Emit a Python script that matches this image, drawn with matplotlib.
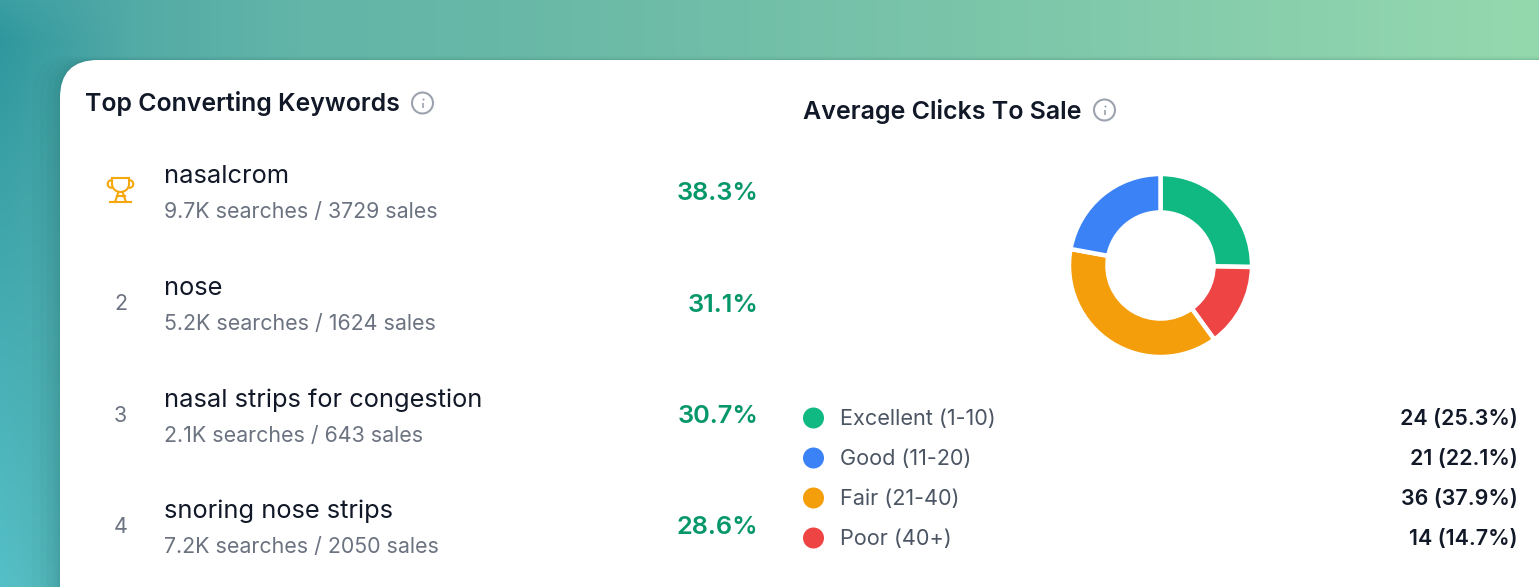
import numpy as np
import matplotlib
matplotlib.use("Agg")
import matplotlib.pyplot as plt
from matplotlib.patches import Circle, FancyBboxPatch
from matplotlib.colors import to_rgb

plt.rcParams['font.family'] = ['Inter', 'DejaVu Sans']

# keyword table
keywords = ["nasalcrom", "nose", "nasal strips for congestion", "snoring nose strips"]
searches = ["9.7K", "5.2K", "2.1K", "7.2K"]
sales = [3729, 1624, 643, 2050]
rates = ["38.3%", "31.1%", "30.7%", "28.6%"]
ranks = ["", "2", "3", "4"]

# donut data
buckets = ["Excellent (1-10)", "Good (11-20)", "Fair (21-40)", "Poor (40+)"]
counts = [24, 21, 36, 14]
shares = ["25.3%", "22.1%", "37.9%", "14.7%"]
colors = ["#10b981", "#3b82f6", "#f59e0b", "#ef4444"]
# donut runs clockwise: excellent, poor, fair, good
donut_order = [0, 3, 2, 1]

W, H = 1539, 587
DARK = "#111827"
GREY = "#6b7280"
GREEN = "#059669"

fig = plt.figure(figsize=(W / 100, H / 100), dpi=100)
ax = fig.add_axes([0, 0, 1, 1])
ax.axis("off")

# background: colour along the top strip blended with colour down the left strip
top_x = [120, 300, 500, 1000, 1300, 1539]
top_c = np.array([to_rgb(c) for c in ["#52aaa6", "#62b5a8", "#68b8a7", "#7cc6aa", "#8ad0ad", "#94d9ae"]])
left_y = [0, 40, 200, 587]
left_c = np.array([to_rgb(c) for c in ["#3a9ea3", "#2f979e", "#3ea4aa", "#55c0c8"]])
xs = np.arange(W)
ys = np.arange(H)
top_row = np.stack([np.interp(xs, top_x, top_c[:, k]) for k in range(3)], axis=1)
left_col = np.stack([np.interp(ys, left_y, left_c[:, k]) for k in range(3)], axis=1)
mix = np.clip(1 - xs / 130, 0, 1)[None, :, None]
img = mix * left_col[:, None, :] + (1 - mix) * top_row[None, :, :]
ax.imshow(img, extent=(0, W, H, 0), aspect="auto", zorder=0)

# soft card shadow
for pad, alpha in zip([28, 20, 13, 7, 3], [0.02, 0.025, 0.03, 0.035, 0.04]):
    ax.add_patch(FancyBboxPatch((60 - pad, 60 - pad * 0.15), W + 100, H + 100,
                                boxstyle="round,pad=0,rounding_size=38",
                                fc="#0b3d3d", ec="none", alpha=alpha, zorder=1))
# card
ax.add_patch(FancyBboxPatch((60, 60), W + 100, H + 100,
                            boxstyle="round,pad=0,rounding_size=38",
                            fc="white", ec="none", zorder=2))
ax.set_xlim(0, W)
ax.set_ylim(H, 0)


def info_icon(x, y):
    ax.add_patch(Circle((x, y), 10.5, fc="none", ec="#9ca3af", lw=1.5, zorder=3))
    ax.plot([x, x], [y - 0.5, y + 5], color="#9ca3af", lw=1.2, zorder=3, solid_capstyle="butt")
    ax.plot([x], [y - 4], marker="o", ms=1.5, mew=0, color="#9ca3af", zorder=3)


def trophy(x, y):
    c = "#f5a70b"
    lw = 1.5
    # cup
    t = np.linspace(0, np.pi, 30)
    cup_x = np.r_[x - 8.5, x + 8.5 * np.cos(t)[::-1], x + 8.5]
    cup_y = np.r_[y - 9, y - 3 + 8 * np.sin(t), y - 9]
    ax.plot(cup_x, cup_y, color=c, lw=lw, zorder=3)
    ax.plot([x - 8.5, x + 8.5], [y - 9, y - 9], color=c, lw=lw, zorder=3)
    # handles
    for s in (-1, 1):
        a = np.linspace(-np.pi / 2, np.pi / 2, 16)
        ax.plot(x + s * (9 + 3.8 * np.cos(a)), y - 3 + 3.8 * np.sin(a), color=c, lw=lw, zorder=3)
    # stem and base
    ax.plot([x - 2, x - 5.5], [y + 5, y + 15], color=c, lw=lw, zorder=3)
    ax.plot([x + 2, x + 5.5], [y + 5, y + 15], color=c, lw=lw, zorder=3)
    ax.plot([x - 10.5, x + 10.5], [y + 15, y + 15], color=c, lw=lw, zorder=3)
    ax.plot([x - 4, x + 4], [y + 9, y + 9], color=c, lw=lw, zorder=3)


# left panel
ax.text(85, 104, "Top Converting Keywords", fontsize=17.9, fontweight=600, color=DARK,
        va="center", ha="left", zorder=3)
info_icon(422.5, 103)

row_y = [176.5, 288.5, 400, 511]
sub_y = [212, 324, 435.5, 547]
for i, name in enumerate(keywords):
    ax.text(164, row_y[i], name, fontsize=18.3, color=DARK, va="center", ha="left", zorder=3)
    ax.text(164, sub_y[i], f"{searches[i]} searches / {sales[i]} sales", fontsize=15.4,
            color=GREY, va="center", ha="left", zorder=3)
    ax.text(758.5, (row_y[i] + sub_y[i]) / 2 - 1, rates[i], fontsize=18.3, fontweight=600,
            color=GREEN, va="center", ha="right", zorder=3)
    if ranks[i]:
        ax.text(120.5, (row_y[i] + sub_y[i]) / 2 - 2, ranks[i], fontsize=15.4, color=GREY,
                va="center", ha="center", zorder=3)
trophy(120.5, 187)

# right panel
ax.text(803, 111, "Average Clicks To Sale", fontsize=18, fontweight=600, color=DARK,
        va="center", ha="left", zorder=3)
info_icon(1104.5, 110)

# donut
cx, cy, r = 1160.5, 265.5, 91.5
pie_ax = fig.add_axes([(cx - r) / W, 1 - (cy + r) / H, 2 * r / W, 2 * r / H])
pie_ax.pie([counts[i] for i in donut_order], colors=[colors[i] for i in donut_order],
           startangle=90, counterclock=False, radius=1.0,
           wedgeprops=dict(width=0.42, edgecolor="white", linewidth=3.2))
pie_ax.set_xlim(-1, 1)
pie_ax.set_ylim(-1, 1)

# legend rows
leg_y = [418, 458, 498, 538]
for i, label in enumerate(buckets):
    ax.add_patch(Circle((813.5, leg_y[i]), 10.5, fc=colors[i], ec="none", zorder=3))
    ax.text(839.5, leg_y[i] + 1, label, fontsize=15.6, color="#4b5563", va="center", ha="left", zorder=3)
    ax.text(1518, leg_y[i] + 1, f"{counts[i]} ({shares[i]})", fontsize=15.4, fontweight=600,
            color=DARK, va="center", ha="right", zorder=3)

fig.savefig("out.png", dpi=100)
plt.close(fig)
